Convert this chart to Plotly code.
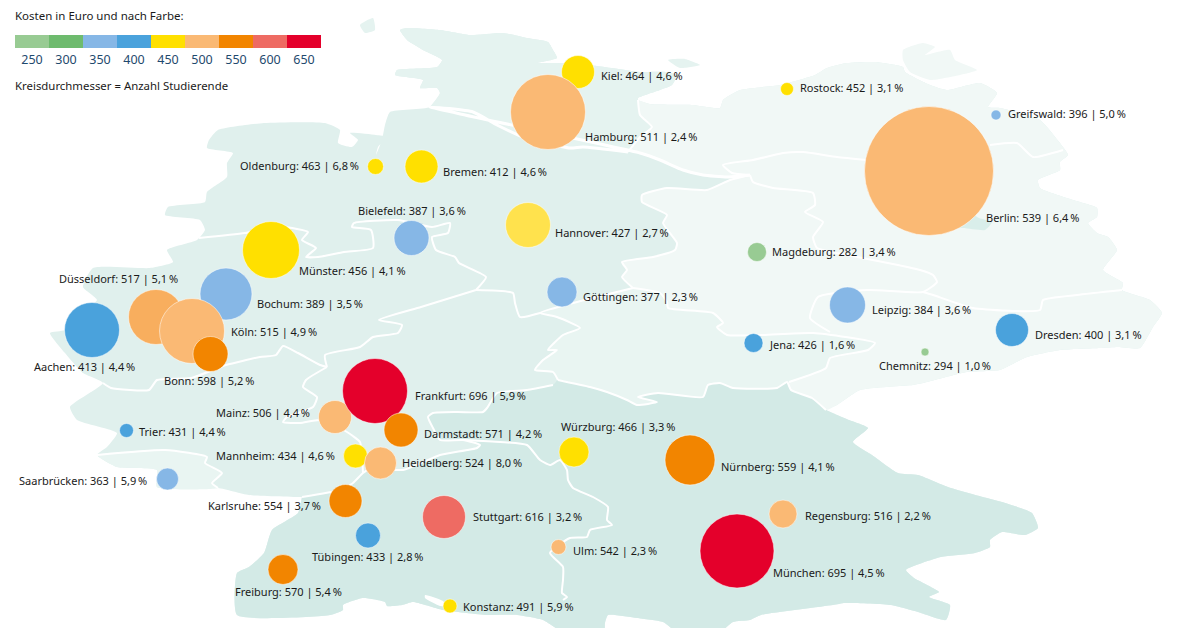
import plotly.graph_objects as go

# cities, drawn in this order (later ones sit on top)
cities = ['Kiel', 'Hamburg', 'Rostock', 'Greifswald', 'Berlin', 'Oldenburg', 'Bremen', 'Bielefeld', 'Hannover',
          'Münster', 'Magdeburg', 'Göttingen', 'Leipzig', 'Bochum', 'Düsseldorf', 'Köln', 'Aachen', 'Bonn',
          'Dresden', 'Jena', 'Chemnitz', 'Mainz', 'Frankfurt', 'Darmstadt', 'Trier', 'Mannheim', 'Heidelberg',
          'Würzburg', 'Nürnberg', 'Saarbrücken', 'Karlsruhe', 'Stuttgart', 'Regensburg', 'Tübingen', 'Ulm',
          'München', 'Freiburg', 'Konstanz']
costs = [464, 511, 452, 396, 539, 463, 412, 387, 427, 456, 282, 377, 384, 389, 517, 515, 413, 598, 400, 426, 294,
         506, 696, 571, 431, 434, 524, 466, 559, 363, 554, 616, 516, 433, 542, 695, 570, 491]
shares = ['4,6', '2,4', '3,1', '5,0', '6,4', '6,8', '4,6', '3,6', '2,7', '4,1', '3,4', '2,3', '3,6', '3,5', '5,1',
          '4,9', '4,4', '5,2', '3,1', '1,6', '1,0', '4,4', '5,9', '4,2', '4,4', '4,6', '8,0', '3,3', '4,1', '5,9',
          '3,7', '3,2', '2,2', '2,8', '2,3', '4,5', '5,4', '5,9']
# colour class as printed on the map
bands = [450, 500, 450, 350, 500, 450, 450, 350, 450, 450, 250, 350, 350, 350, 500, 500, 400, 550, 400, 400, 250,
         500, 650, 550, 400, 450, 500, 450, 550, 350, 550, 600, 500, 400, 500, 650, 550, 450]
# circle diameter = number of students
students = [33, 75, 13, 10, 129, 16, 33, 35, 45, 57, 19, 30, 36, 52, 55, 65, 55, 35, 33, 19, 8, 33, 65, 34, 14, 24,
            32, 30, 50, 22, 33, 43, 28, 25, 15, 74, 30, 14]
city_x = [578, 548, 787, 996, 929, 375.5, 421.5, 411.5, 528, 271, 757, 562, 847.5, 226, 156, 192, 92, 210.5, 1012,
          753.5, 925, 335, 375, 401, 126.5, 355.5, 380.5, 574, 690, 167.5, 345.5, 444, 783, 368, 558.5, 737, 283, 450]
city_y = [72, 112, 89, 115, 171, 166.5, 166.5, 238, 225, 250, 252, 292, 305, 294, 317, 331, 330, 354, 330, 343, 352,
          417, 391, 430, 430.5, 456, 463, 452, 460, 479, 501, 517, 514, 535.5, 547, 551, 569.5, 606]
label_x = [601, 585, 800, 1008, 986, 240, 443, 358, 555, 299, 772, 583, 872, 257, 59, 231, 34, 164, 1035, 770, 879,
           216, 415, 424, 139, 216, 402, 561, 721, 19, 208, 473, 805, 312, 573, 773, 235, 463]
label_y = [77, 138, 89, 115, 219, 167, 173, 212, 234, 272, 253, 298, 311, 305, 280, 333, 368, 382, 336, 346, 367,
           414, 397, 435, 433, 457, 464, 428, 468, 482, 507, 518, 517, 558, 552, 574, 593, 608]

legend_ticks = [250, 300, 350, 400, 450, 500, 550, 600, 650]
legend_colors = ['#98CB93', '#6EBB6E', '#86B7E6', '#4AA2DC', '#FFE000', '#FAB974', '#F28500', '#EE6B63', '#E4002B']
special_colors = {'Hannover': '#FFE24D', 'Düsseldorf': '#F8AE5E'}

# map outline, in map units
west_coast = [(302, 497), (249, 495), (218, 488), (157, 487), (157, 470), (117, 467), (97, 455), (107, 447),
              (117, 433), (77, 420), (70, 407), (103, 383), (83, 373), (65, 353), (50, 333), (65, 330), (73, 317),
              (97, 300), (83, 287), (93, 268), (150, 268), (173, 262), (167, 250), (197, 240), (205, 230), (200, 220),
              (165, 215), (168, 207), (205, 202), (207, 192), (227, 177), (227, 163), (233, 153), (207, 148),
              (209, 140), (218, 130), (264, 123), (325, 123), (340, 130), (338, 143), (352, 147), (358, 140),
              (350, 133), (376, 135), (387, 137), (378, 147), (376, 155), (382, 140), (385, 125), (390, 112)]
sh_coast = [(430, 107), (440, 93), (437, 88), (420, 88), (423, 80), (395, 75), (397, 70), (437, 67), (442, 60),
            (423, 50), (407, 40), (400, 30), (407, 28), (440, 30), (470, 35), (503, 33), (527, 38), (548, 42),
            (553, 50), (557, 58), (537, 63), (557, 63), (597, 66), (640, 72), (665, 72), (677, 75), (672, 85),
            (660, 90), (638, 98)]
east_border = [(638, 100), (650, 104), (693, 105), (720, 108), (723, 100), (740, 90), (780, 85), (815, 75), (827, 68),
               (847, 63), (875, 62), (903, 67), (905, 72), (930, 85), (947, 90), (980, 83), (997, 93), (988, 107),
               (1000, 108), (1040, 120), (1063, 147), (1068, 155), (1060, 162), (1060, 170), (1038, 180), (1040, 188),
               (1073, 200), (1097, 208), (1097, 217), (1088, 223), (1097, 233), (1108, 237), (1117, 250), (1103, 270),
               (1123, 283), (1122, 290), (1150, 300), (1162, 313), (1153, 327), (1140, 348), (1118, 347), (1100, 348),
               (1060, 350), (1027, 357), (1000, 370), (967, 372), (923, 383), (913, 385), (860, 390), (837, 405)]
south_border = [(826, 410), (849, 420), (868, 428), (853, 442), (872, 455), (898, 473), (918, 475), (948, 487),
                (983, 497), (1002, 502), (1032, 513), (1038, 528), (1025, 535), (1002, 532), (990, 540), (990, 547),
                (975, 553), (941, 557), (906, 570), (914, 578), (939, 592), (929, 597), (950, 605), (946, 620),
                (918, 612), (891, 605), (845, 603), (833, 605), (761, 615), (750, 620), (733, 622), (720, 632),
                (677, 632), (663, 622), (637, 618), (608, 615), (605, 623), (604, 632), (563, 632), (543, 620),
                (517, 615), (487, 615), (443, 610), (413, 602), (402, 605), (387, 606), (385, 602), (363, 598),
                (343, 605), (343, 610), (330, 615), (237, 615), (237, 573), (249, 567), (264, 553), (272, 530),
                (298, 513), (302, 497)]

# inner borders
thur_south = [(826, 410), (812, 398), (791, 390), (787, 382), (777, 388), (733, 388), (720, 383), (708, 385), (703, 397),
              (658, 393), (638, 397), (657, 402), (637, 405), (627, 400), (607, 392), (590, 387), (558, 380)]
hesse_south = [(553, 385), (527, 390), (497, 393), (487, 408), (483, 412), (457, 412), (433, 413), (428, 417),
               (433, 428), (440, 440), (463, 440), (480, 445), (477, 448), (440, 455), (403, 470), (372, 468),
               (363, 473), (353, 483), (340, 490), (302, 497)]
thur_west = [(558, 380), (553, 372), (535, 370), (543, 360), (557, 350), (548, 350), (563, 335), (580, 328),
             (557, 317), (540, 313), (577, 302), (633, 288)]
thur_north = [(633, 288), (660, 293), (667, 302), (668, 308), (713, 313), (723, 323), (717, 327), (727, 335),
              (763, 335), (813, 333), (875, 343), (868, 350), (830, 358), (826, 368), (789, 382)]
ni_east = [(633, 288), (622, 277), (627, 270), (622, 262), (653, 257), (675, 250), (677, 243), (663, 223), (667, 215),
           (642, 202), (642, 195), (667, 188), (707, 190), (730, 180), (750, 175)]
elbe_east = [(750, 175), (727, 177), (703, 175), (683, 170), (660, 160), (640, 153), (628, 152)]
mv_west = [(628, 152), (640, 137), (652, 127), (640, 115), (638, 100)]
elbe_west = [(628, 152), (583, 147), (570, 148), (523, 137), (497, 125), (473, 112), (430, 107)]
st_east = [(750, 175), (732, 173), (723, 165), (753, 160), (783, 153), (803, 152), (837, 157), (867, 160)]
st_brandenburg = [(750, 175), (753, 182), (773, 188), (813, 193), (815, 205), (805, 212), (823, 222), (813, 237),
                  (817, 248), (837, 253), (898, 265), (920, 270), (933, 275), (937, 282), (923, 292), (868, 290),
                  (818, 297), (810, 318), (830, 332)]
sn_north = [(923, 292), (933, 295), (973, 308), (1040, 310), (1043, 300), (1077, 295), (1122, 290)]
mv_south_east = [(990, 145), (1017, 143), (1033, 157), (1063, 150)]
ni_nrw = [(199, 238), (245, 233), (283, 227), (308, 232), (302, 240), (316, 248), (306, 257), (318, 257), (344, 252),
          (373, 248), (371, 230), (352, 227), (354, 223), (398, 220), (432, 227), (450, 223), (448, 233), (432, 237),
          (436, 250), (455, 257), (459, 263), (486, 277), (476, 290)]
ni_hesse = [(476, 290), (513, 293), (515, 303), (520, 317), (540, 313)]
nrw_hesse = [(476, 290), (421, 307), (379, 320), (402, 325), (398, 333), (373, 337), (360, 347), (325, 355), (327, 367)]
nrw_rlp = [(103, 383), (111, 388), (149, 390), (157, 380), (191, 378), (226, 365), (260, 357), (276, 355), (283, 346),
           (298, 353), (320, 365), (327, 367)]
rlp_hesse = [(327, 367), (306, 380), (303, 387), (317, 397), (313, 407), (287, 417), (283, 422), (300, 423), (320, 420),
             (347, 432), (360, 442), (362, 455), (363, 473)]
saar = [(97, 455), (165, 450), (207, 457), (205, 463), (222, 473), (212, 483), (218, 488)]
bw_bavaria = [(463, 440), (500, 442), (527, 445), (540, 460), (550, 465), (560, 460), (567, 470), (568, 480), (573, 488),
              (593, 497), (608, 507), (607, 520), (612, 525), (590, 530), (587, 537), (570, 538), (550, 553), (563, 567),
              (563, 580), (562, 593), (567, 597), (563, 600)]
berlin = [(885, 190), (900, 165), (950, 175), (977, 217), (992, 222), (985, 230), (963, 228), (920, 230)]
ruegen = [(903, 60), (903, 50), (923, 43), (935, 47), (925, 55), (950, 50), (955, 60), (977, 70), (960, 75), (930, 80),
          (910, 72)]
fehmarn = [(668, 60), (685, 59), (700, 65), (680, 68)]
north_isles = [(360, 25), (373, 18), (375, 30), (365, 33)]
lake = [(425, 595), (443, 601), (446, 606), (440, 606), (425, 598)]

germany = west_coast + sh_coast + east_border + south_border
east = east_border + thur_south + thur_west + ni_east + elbe_east + mv_west
south = south_border + hesse_south[::-1] + thur_south[::-1]
thuringia = thur_south[3:] + thur_west + thur_north
schleswig = sh_coast + mv_west[::-1] + elbe_west
saarland = [(117, 467), (157, 470), (157, 487)] + saar[::-1]

fig = go.Figure()


def add_area(points, color):
    fig.add_trace(go.Scatter(x=[p[0] for p in points] + [points[0][0]], y=[p[1] for p in points] + [points[0][1]],
                             mode='lines', fill='toself', fillcolor=color,
                             line=dict(width=0, color=color, shape='spline', smoothing=0.5),
                             hoverinfo='skip', showlegend=False))


def add_border(points, width=2.0):
    fig.add_trace(go.Scatter(x=[p[0] for p in points], y=[p[1] for p in points], mode='lines',
                             line=dict(width=width, color='white', shape='spline', smoothing=0.5),
                             hoverinfo='skip', showlegend=False))


add_area(germany, '#E0F0ED')
add_area(schleswig, '#E5F3F0')
add_area(fehmarn, '#E5F3F0')
add_area(north_isles, '#E5F3F0')
add_area(east, '#F1F8F6')
add_area(ruegen, '#F1F8F6')
add_area(thuringia, '#E9F5F2')
add_area(saarland, '#E9F5F2')
add_area(south, '#D3EAE6')
add_area(berlin, '#D9EEEA')
add_area(lake, '#FFFFFF')

for b in [ni_east, mv_west, st_east, st_brandenburg, sn_north, mv_south_east, ni_nrw, ni_hesse, nrw_hesse, nrw_rlp,
          rlp_hesse, saar, bw_bavaria, thur_west, thur_north, thur_south, hesse_south]:
    add_border(b)
add_border(elbe_west + elbe_east[::-1][1:], 3.0)

# legend
cell_w = 34
legend_x = [15 + cell_w * (i + 0.5) for i in range(len(legend_ticks))]
fig.add_trace(go.Bar(x=legend_x, y=[13] * len(legend_ticks), base=35, width=cell_w, marker_color=legend_colors,
                     marker_line_width=0, hoverinfo='skip', showlegend=False))
fig.add_trace(go.Scatter(x=legend_x, y=[60.5] * len(legend_ticks), mode='text', text=[str(t) for t in legend_ticks],
                         textposition='middle center', textfont=dict(family='Noto Sans', size=12.5, color='#1F4A6E'),
                         hoverinfo='skip', showlegend=False))

# circles
band_color = dict(zip(legend_ticks, legend_colors))
city_colors = [special_colors.get(c, band_color[b]) for c, b in zip(cities, bands)]
fig.add_trace(go.Scatter(x=city_x, y=city_y, mode='markers',
                         marker=dict(size=students, sizemode='diameter', color=city_colors, opacity=1,
                                     line=dict(width=1, color='rgba(255,255,255,0.5)')),
                         hovertext=cities, hoverinfo='text', showlegend=False))

labels = [f'{c}: {k} | {s}\u2009%' for c, k, s in zip(cities, costs, shares)]
fig.add_trace(go.Scatter(x=label_x, y=label_y, mode='text', text=labels, textposition='middle right',
                         textfont=dict(family='Noto Sans', size=11, color='#1A1A1A'),
                         hoverinfo='skip', showlegend=False))

fig.add_annotation(x=15, y=15, text='Kosten in Euro und nach Farbe:', showarrow=False, xanchor='left', xshift=-2,
                   font=dict(family='Noto Sans', size=11.5, color='#1A1A1A'))
fig.add_annotation(x=15, y=85, text='Kreisdurchmesser = Anzahl Studierende', showarrow=False, xanchor='left', xshift=-2,
                   font=dict(family='Noto Sans', size=11.4, color='#1A1A1A'))

fig.update_layout(width=1200, height=628, margin=dict(l=0, r=0, t=0, b=0), paper_bgcolor='white', plot_bgcolor='white',
                  xaxis=dict(range=[0, 1200], visible=False, fixedrange=True),
                  yaxis=dict(range=[628, 0], visible=False, fixedrange=True),
                  bargap=0)

fig.write_html("out.html", config=dict(displayModeBar=False), post_script="document.body.style.margin='0';")
